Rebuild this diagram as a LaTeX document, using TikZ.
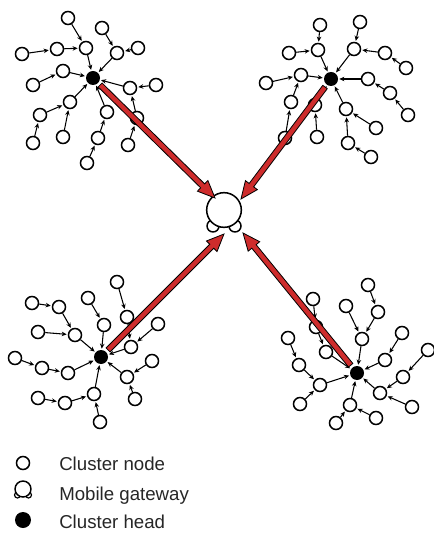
\documentclass[tikz,border=0pt]{standalone}
\usepackage{fontspec}
\setmainfont{Liberation Sans}
\usetikzlibrary{arrows.meta,calc}
\definecolor{arrowred}{RGB}{206,44,44}
% fat red arrow from node #1 to coordinate #2
\newcommand\gwarrow[2]{%
  \path ($(#1)!7.5pt!(#2)$) coordinate (s) ($(#2)!13pt!(#1)$) coordinate (c);
  \filldraw[redarrow] ($(s)!2.1pt!90:(#2)$) -- ($(c)!2.1pt!90:(#2)$) -- ($(c)!5.6pt!90:(#2)$)
    -- (#2) -- ($(c)!5.6pt!-90:(#2)$) -- ($(c)!2.1pt!-90:(#2)$) -- ($(s)!2.1pt!-90:(#2)$) -- cycle;
}
\begin{document}
\begin{tikzpicture}[x=0.75pt,y=-0.75pt]

	\tikzset{
	  cn/.style={circle,draw,fill=white,line width=1.15pt,inner sep=0pt,minimum size=9.75pt},
	  ch/.style={circle,fill=black,inner sep=0pt,minimum size=10.5pt},
	  link/.style={line width=0.8pt,shorten >=0.8pt,-{Stealth[length=3.8pt,width=3.4pt]}},
	  redarrow/.style={fill=arrowred,draw=black,line width=0.6pt,line join=miter},
	  lobe/.style={circle,draw,fill=white,line width=1.1pt,inner sep=0pt,minimum size=9pt},
	  gwnode/.style={circle,draw,fill=white,line width=1.15pt,inner sep=0pt,minimum size=26pt},
	  legend/.style={anchor=base west,inner sep=0pt,text=black!85,font=\fontsize{14}{16}\selectfont},
	}
	\useasboundingbox (0,0) rectangle (433,534);

	% cluster heads
	\node[ch] (ha) at (93,78) {};
	\node[ch] (hb) at (331,79) {};
	\node[ch] (hc) at (101,357) {};
	\node[ch] (hd) at (357,373) {};

	% cluster nodes
	\foreach \n/\x/\y in {a1/68/18, a2/86/48, a3/102/28, a4/117/53, a5/138/48, a6/57/49, a7/22/54,
	  a8/63/71, a9/33/85, a10/130/88, a11/156/85, a12/70/102, a13/40/115, a14/107/112, a15/137/118,
	  a16/33/143, a17/63/137, a18/98/138, a19/128/145, a20/87/163}
	  \node[cn] (\n) at (\x,\y) {};
	\foreach \n/\x/\y in {b1/320/25, b2/318/50, b3/289/53, b4/360/22, b5/354/49, b6/385/53, b7/406/68,
	  b8/301/75, b9/266/83, b10/368/79, b11/390/93, b12/408/115, b13/291/102, b14/315/105, b15/346/109,
	  b16/376/128, b17/285/138, b18/317/137, b19/348/143, b20/371/157}
	  \node[cn] (\n) at (\x,\y) {};
	\foreach \n/\x/\y in {c1/117/282, c2/88/298, c3/32/303, c4/59/307, c5/127/317, c6/104/325, c7/158/324,
	  c8/38/332, c9/75/335, c10/131/347, c11/15/358, c12/42/368, c13/68/373, c14/152/361, c15/127/377,
	  c16/38/398, c17/65/403, c18/94/394, c19/135/399, c20/100/422}
	  \node[cn] (\n) at (\x,\y) {};
	\foreach \n/\x/\y in {d1/368/285, d2/313/299, d3/346/306, d4/378/312, d5/316/327, d6/362/339, d7/402/333,
	  d8/288/338, d9/326/352, d10/428/350, d11/385/360, d12/299/365, d13/403/377, d14/320/385, d15/380/393,
	  d16/412/407, d17/300/404, d18/350/405, d19/376/418, d20/336/423}
	  \node[cn] (\n) at (\x,\y) {};

	% links inside the clusters
	\foreach \p/\q in {a1/a2, a6/a2, a7/a6, a2/ha, a3/a4, a5/a4, a4/ha, a9/a8, a8/ha, a11/a10, a10/ha,
	  a13/a12, a12/ha, a16/a13, a17/a12, a15/a10, a19/a15, a14/ha, a18/a14, a20/a18}
	  \draw[link] (\p) -- (\q);
	\foreach \p/\q in {b1/b2, b3/b2, b2/hb, b4/b5, b6/b5, b7/b6, b5/hb, b9/b8, b8/hb, b10/hb, b11/b10,
	  b12/b11, b13/b8, b17/b13, b14/hb, b18/b14, b15/hb, b16/b15, b19/b15, b20/b19}
	  \draw[link] (\p) -- (\q);
	\foreach \p/\q in {c1/c5, c5/c10, c2/c6, c6/hc, c3/c4, c4/c9, c8/c9, c9/hc, c7/c10, c10/hc, c11/c12,
	  c12/c13, c13/hc, c14/c15, c15/hc, c19/c15, c16/c17, c17/c18, c18/hc, c20/c18}
	  \draw[link] (\p) -- (\q);
	\foreach \p/\q in {d1/d4, d4/d6, d3/d6, d6/hd, d2/d5, d5/d9, d9/hd, d7/d11, d11/hd, d10/d13, d13/d15,
	  d16/d15, d15/hd, d8/d12, d12/d14, d17/d14, d14/hd, d18/hd, d20/d18, d19/d18}
	  \draw[link] (\p) -- (\q);

	% mobile gateway
	\node[lobe] (gwl) at (213,226) {};
	\node[lobe] (gwr) at (235,226) {};
	\node[gwnode] (gw) at (224,210) {};
	\coordinate (gtl) at (215,198);
	\coordinate (gtr) at (241,199);
	\coordinate (gbl) at (224,234);
	\coordinate (gbr) at (243,233);

	\gwarrow{ha}{gtl}
	\gwarrow{hb}{gtr}
	\gwarrow{hc}{gbl}
	\gwarrow{hd}{gbr}

	% legend
	\node[lobe,minimum size=4.5pt,line width=0.9pt] (k2l) at (17.5,495) {};
	\node[lobe,minimum size=4.5pt,line width=0.9pt] (k2r) at (28.5,495) {};
	\node[circle,draw,fill=white,line width=1.1pt,inner sep=0pt,minimum size=12pt] (k2) at (23,489) {};
	\node[cn] (k1) at (23,463) {};
	\node[ch,minimum size=12pt] (k3) at (23,520) {};
	\node[legend] (t1) at (59,470) {Cluster node};
	\node[legend] (t2) at (59,500) {Mobile gateway};
	\node[legend] (t3) at (59,528) {Cluster head};

\end{tikzpicture}
\end{document}
